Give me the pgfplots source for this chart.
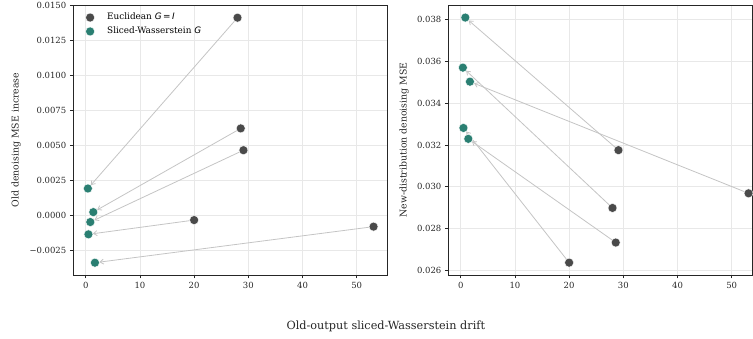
\documentclass[border=0pt]{standalone}
\usepackage{fontspec}
\setmainfont{DejaVu Serif}
\newfontfamily\dvsans{DejaVu Sans}
\usepackage{pgfplots}
\usepackage{pgfplotstable}
\pgfplotsset{compat=1.18}
\usetikzlibrary{arrows.meta}
\definecolor{eucl}{HTML}{4A4A4A}
\definecolor{swc}{HTML}{2A7F72}
\definecolor{arr}{HTML}{C4C4C4}
\definecolor{gridc}{HTML}{E8E8E8}
\definecolor{spine}{HTML}{262626}

% Euclidean G = I runs
\pgfplotstableread{
x    yold      ynew
28.0  0.01412  0.02899
28.6  0.00620  0.02734
29.1  0.00464  0.03175
20.0 -0.00036  0.02638
53.1 -0.00083  0.02969
}\euc
% Sliced-Wasserstein G runs
\pgfplotstableread{
x    yold      ynew
0.40  0.00190  0.03569
1.40  0.00021  0.03229
0.85 -0.00050  0.03808
0.50 -0.00138  0.03281
1.70 -0.00341  0.03502
}\swd

\pgfplotsset{
  myax/.style={
    scale only axis, height=270bp,
    axis line style={spine, line width=0.8bp},
    tick align=outside, tick pos=left,
    major tick length=3.5bp,
    tick style={spine, line width=0.8bp},
    grid=major, grid style={gridc, line width=0.8bp},
    ticklabel style={font=\fontsize{8.5}{10}\selectfont, text=spine},
    /pgf/number format/assume math mode=true,
    clip=false,
    label style={font=\fontsize{9.4}{11}\selectfont, text=spine},
    xtick={0,10,20,30,40,50},
    scaled y ticks=false,
  },
  arrw/.style={arr, line width=0.8bp, -{Straight Barb[length=3.5bp,width=5bp]}, shorten >=4.5bp, shorten <=4.5bp, forget plot},
  eucm/.style={only marks, mark=*, mark size=4.5bp, mark options={fill=eucl, draw=white, line width=0.4bp}},
  swm/.style={only marks, mark=*, mark size=4.5bp, mark options={fill=swc, draw=white, line width=0.4bp}},
  legimg/.style={legend image code/.code={\draw[##1] plot coordinates {(7.5bp,0bp)}; \path (0bp,0bp) (22.4bp,0bp);}},
}

\begin{document}
\begin{tikzpicture}
\useasboundingbox (0,0) rectangle (753bp,339bp);

\begin{axis}[myax,
  at={(73.3bp,64bp)}, anchor=south west, width=314.4bp,
  xmin=-2.29, xmax=55.71, ymin=-0.00429, ymax=0.01503,
  ytick={-0.0025,0,0.0025,0.005,0.0075,0.01,0.0125,0.015},
  yticklabels={−0.0025,0.0000,0.0025,0.0050,0.0075,0.0100,0.0125,0.0150},
  ylabel={Old denoising MSE increase},
  ylabel style={at={(axis description cs:-0.182,0.5)}, anchor=center},
  legend style={draw=none, fill=none, at={(0.029,1)}, yshift=-6.3bp, anchor=north west,
    inner sep=0pt, outer sep=0pt,
    font=\fontsize{8.9}{10}\selectfont, row sep=1.4bp,
    nodes={text height=6.5bp, text depth=2bp, inner sep=2bp}},
  legend cell align=left,
]
\addplot[arrw] coordinates {(28.0,0.01412) (0.40,0.00190)};
\addplot[arrw] coordinates {(28.6,0.00620) (1.40,0.00021)};
\addplot[arrw] coordinates {(29.1,0.00464) (0.85,-0.00050)};
\addplot[arrw] coordinates {(20.0,-0.00036) (0.50,-0.00138)};
\addplot[arrw] coordinates {(53.1,-0.00083) (1.70,-0.00341)};
\addplot[eucm, legimg] table[x=x, y=yold]{\euc};
\addlegendentry{Euclidean {\dvsans\itshape G}\,{\dvsans =}\,{\dvsans\itshape I}}
\addplot[swm, legimg] table[x=x, y=yold]{\swd};
\addlegendentry{Sliced-Wasserstein {\dvsans\itshape G}}
\end{axis}

\begin{axis}[myax,
  at={(448.3bp,64bp)}, anchor=south west, width=304.2bp,
  xmin=-2.29, xmax=53.83, ymin=0.02579, ymax=0.03868,
  ytick={0.026,0.028,0.030,0.032,0.034,0.036,0.038},
  yticklabels={0.026,0.028,0.030,0.032,0.034,0.036,0.038},
  ylabel={New-distribution denoising MSE},
  ylabel style={at={(axis description cs:-0.1456,0.5)}, anchor=center},
]
\addplot[arrw] coordinates {(28.0,0.02899) (0.40,0.03569)};
\addplot[arrw] coordinates {(28.6,0.02734) (1.40,0.03229)};
\addplot[arrw] coordinates {(29.1,0.03175) (0.85,0.03808)};
\addplot[arrw] coordinates {(20.0,0.02638) (0.50,0.03281)};
\addplot[arrw] coordinates {(53.1,0.02969) (1.70,0.03502)};
\addplot[eucm] table[x=x, y=ynew]{\euc};
\addplot[swm] table[x=x, y=ynew]{\swd};
\end{axis}

\node[font=\fontsize{11.3}{13}\selectfont, text=spine] at (385.8bp,12.3bp) {Old-output sliced-Wasserstein drift};
\end{tikzpicture}
\end{document}
